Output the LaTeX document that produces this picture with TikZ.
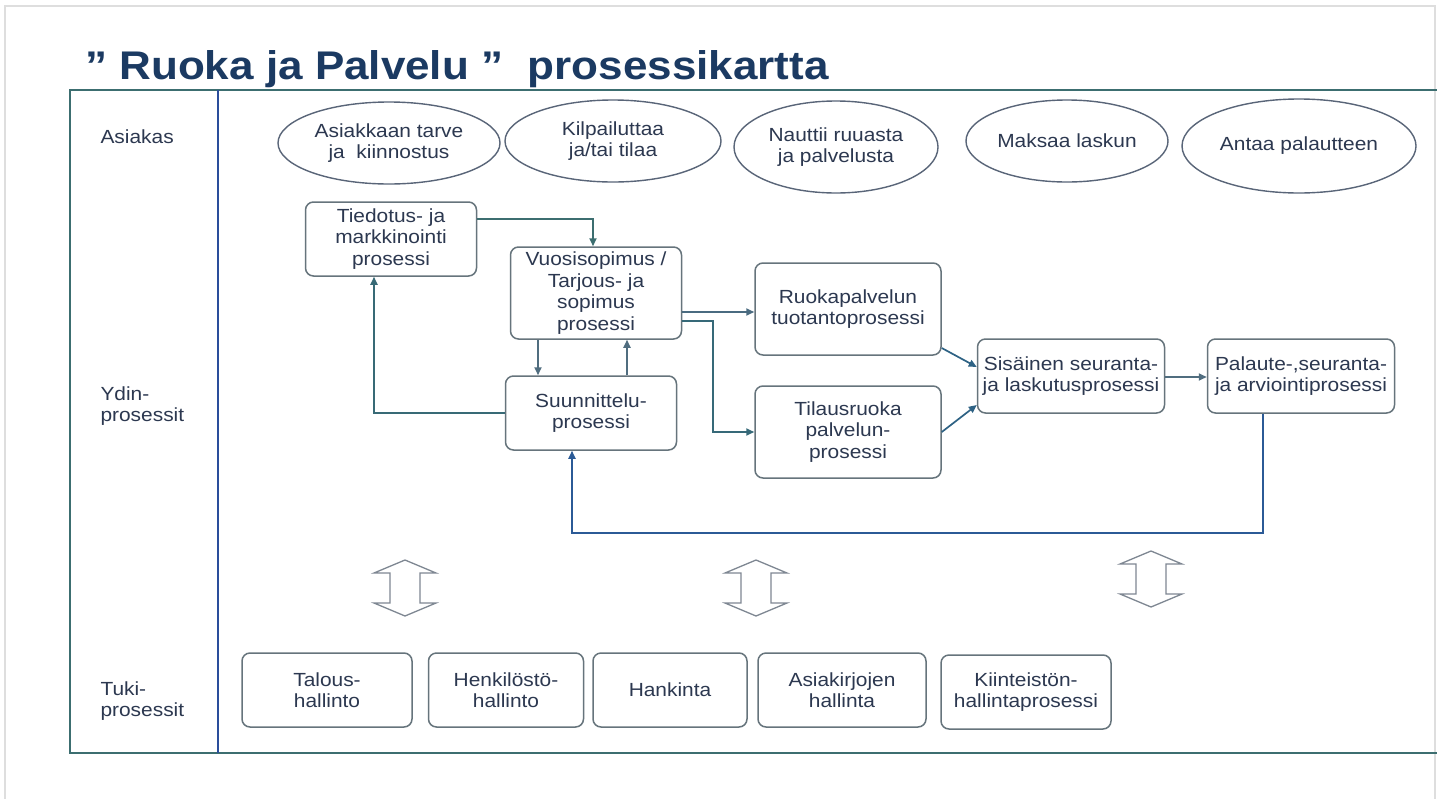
\documentclass[tikz,border=0pt]{standalone}
\usepackage{fontspec}
\setmainfont{Liberation Sans}[FakeStretch=1.1]
\usetikzlibrary{arrows.meta,shapes.geometric,calc}

\definecolor{titlenavy}{HTML}{1B3A62}
\definecolor{textslate}{HTML}{2C3850}
\definecolor{frameteal}{HTML}{3C6E70}
\definecolor{boxgray}{HTML}{66747C}
\definecolor{ellgray}{HTML}{596578}
\definecolor{connblue}{HTML}{2E6284}
\definecolor{loopblue}{HTML}{2B5A96}
\definecolor{arrowgray}{HTML}{7E8792}
\definecolor{pagegray}{HTML}{DEDEDE}

\tikzset{
  body/.style={font=\fontsize{19}{21.5}\selectfont, text=textslate},
  ell/.style={ellipse, draw=ellgray, line width=1.4pt, inner sep=0pt, align=center, body},
  procbox/.style={rectangle, rounded corners=8pt, draw=boxgray, line width=1.5pt,
                  inner sep=0pt, align=center, body},
  lanelabel/.style={anchor=west, align=left, body},
  conn/.style={draw=connblue, line width=1.7pt, -{Triangle[length=8pt,width=7pt]}},
  updown/.pic={
    \draw[arrowgray, line width=1.3pt, line join=miter]
      (0,-28) -- (31,-15) -- (15,-15) -- (15,15) -- (31,15) -- (0,28)
      -- (-31,15) -- (-15,15) -- (-15,-15) -- (-31,-15) -- cycle;
  }
}

\begin{document}
\begin{tikzpicture}[x=1pt, y=-1pt]
  \useasboundingbox (0,0) rectangle (1437,798);
  \fill[white] (0,0) rectangle (1437,798);

  % page edge and swimlane frame
  \draw[pagegray, line width=2pt] (5,830) -- (5,6) -- (1435,6) -- (1435,830);
  \draw[frameteal, line width=2pt] (1460,90) -- (70,90) -- (70,753) -- (1460,753);
  \draw[frameteal!70!blue, line width=1.8pt] (218,90) -- (218,753);

  % heading
  \node[anchor=base west, inner sep=0pt, text=titlenavy,
        font=\fontsize{40}{44}\selectfont\bfseries] (title) at (85,79)
        {” Ruoka ja Palvelu ”\ \ prosessikartta};

  % lane labels
  \node[lanelabel] (lblA) at (97,137) {Asiakas};
  \node[lanelabel] (lblY) at (97,406) {Ydin-\\prosessit};
  \node[lanelabel] (lblT) at (97,701) {Tuki-\\prosessit};

  % customer lane
  \node[ell, minimum width=222, minimum height=82] (e1) at (389,143) {Asiakkaan tarve\\ja\ \ kiinnostus};
  \node[ell, minimum width=216, minimum height=82] (e2) at (613,141) {Kilpailuttaa\\ja/tai tilaa};
  \node[ell, minimum width=204, minimum height=92] (e3) at (836,147) {Nauttii ruuasta\\ja palvelusta};
  \node[ell, minimum width=202, minimum height=82] (e4) at (1067,141) {Maksaa laskun};
  \node[ell, minimum width=234, minimum height=94] (e5) at (1299,146) {Antaa palautteen};

  % core processes
  \node[procbox, minimum width=171, minimum height=74] (tied) at (391,239) {Tiedotus- ja\\markkinointi\\prosessi};
  \node[procbox, minimum width=171, minimum height=92] (vuosi) at (596,293) {Vuosisopimus /\\Tarjous- ja\\sopimus\\prosessi};
  \node[procbox, minimum width=171, minimum height=74] (suun) at (591,413) {Suunnittelu-\\prosessi};
  \node[procbox, minimum width=186, minimum height=92] (ruoka) at (848,309) {Ruokapalvelun\\tuotantoprosessi};
  \node[procbox, minimum width=186, minimum height=92] (tilaus) at (848,432) {Tilausruoka\\palvelun-\\prosessi};
  \node[procbox, minimum width=187, minimum height=74] (sis) at (1071,376) {Sisäinen seuranta-\\ja laskutusprosessi};
  \node[procbox, minimum width=187, minimum height=74] (pal) at (1301,376) {Palaute-,seuranta-\\ja arviointiprosessi};

  % support processes
  \node[procbox, minimum width=170, minimum height=74] (talous) at (327,690) {Talous-\\hallinto};
  \node[procbox, minimum width=155, minimum height=74] (henk) at (506,690) {Henkilöstö-\\hallinto};
  \node[procbox, minimum width=154, minimum height=74] (hank) at (670,690) {Hankinta};
  \node[procbox, minimum width=168, minimum height=74] (asiak) at (842,690) {Asiakirjojen\\hallinta};
  \node[procbox, minimum width=170, minimum height=74] (kiint) at (1026,692) {Kiinteistön-\\hallintaprosessi};

  % flows between core processes
  \draw[conn, draw=frameteal] (tied.east |- 0,219) -| (vuosi.north -| 593,0);
  \draw[conn, draw=boxgray!60!connblue] (vuosi.south -| 538,0) -- (suun.north -| 538,0);
  \draw[conn, draw=boxgray!60!connblue] (suun.north -| 627,0) -- (vuosi.south -| 627,0);
  \draw[conn, draw=frameteal!70!connblue] (suun.west) -| (tied.south -| 374,0);
  \draw[conn, draw=boxgray!50!connblue] (vuosi.east |- 0,312) -- (ruoka.west |- 0,312);
  \draw[conn, draw=frameteal!60!connblue] (vuosi.east |- 0,321) -| ([xshift=-41pt]tilaus.west) -- (tilaus.west);
  \draw[conn] (ruoka.east |- 0,348) -- (sis.west |- 0,367);
  \draw[conn] (tilaus.east) -- (sis.west |- 0,405);
  \draw[conn, draw=boxgray!60!connblue] (sis.east |- 0,377) -- (pal.west |- 0,377);
  \coordinate (loopturn) at (1263,533);
  \draw[conn, draw=loopblue] (pal.south -| loopturn) -- (loopturn) -| (suun.south -| 572,0);

  % links between core and support lanes
  \pic (ud1) at (405,588) {updown};
  \pic (ud2) at (756,588) {updown};
  \pic (ud3) at (1151,579) {updown};
\end{tikzpicture}
\end{document}
